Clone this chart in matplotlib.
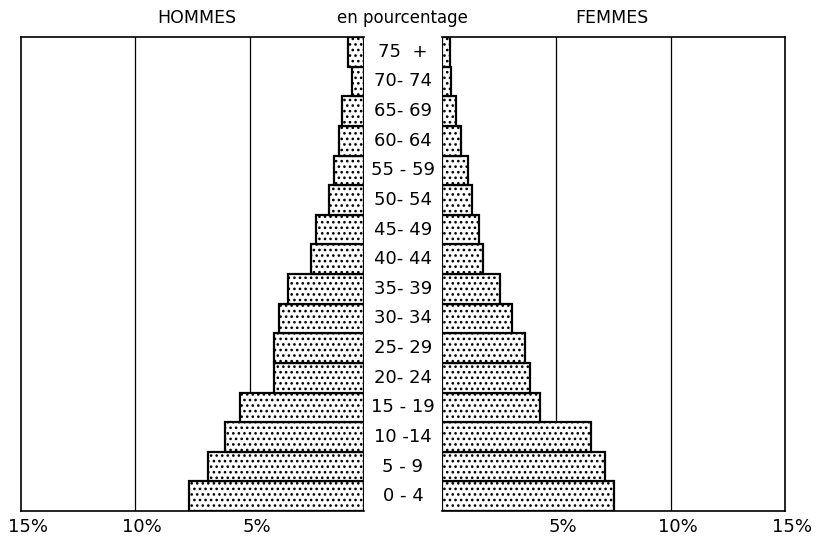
import matplotlib
matplotlib.use("Agg")
import matplotlib.pyplot as plt
from matplotlib.transforms import blended_transform_factory

# groupes d'age, du bas (0-4) vers le haut (75 +)
ages = ["0 - 4", "5 - 9", "10 -14", "15 - 19", "20- 24", "25- 29", "30- 34", "35- 39",
        "40- 44", "45- 49", "50- 54", "55 - 59", "60- 64", "65- 69", "70- 74", "75  +"]
hommes = [7.65, 6.83, 6.1, 5.42, 3.93, 3.93, 3.7, 3.34, 2.32, 2.1, 1.53, 1.31, 1.09, 0.95, 0.51, 0.69]
femmes = [7.5, 7.14, 6.53, 4.27, 3.85, 3.63, 3.07, 2.55, 1.78, 1.63, 1.31, 1.15, 0.83, 0.6, 0.39, 0.33]
ticks = [5, 10, 15]
tick_labels = ["5%", "10%", "15%"]

plt.rcParams['font.family'] = ['DejaVu Sans']
plt.rcParams['hatch.linewidth'] = 1.1

W, H = 825, 540
fig = plt.figure(figsize=(W / 100, H / 100), dpi=100)

def box(x0, x1, y0, y1):
    return [x0 / W, 1 - y1 / H, (x1 - x0) / W, (y1 - y0) / H]

ax_l = fig.add_axes(box(21, 364, 37, 511))
ax_r = fig.add_axes(box(442, 785, 37, 511))

y = list(range(len(ages)))

for ax, vals in ((ax_l, hommes), (ax_r, femmes)):
    ax.barh(y, vals, height=1.0, color="white", edgecolor="black",
            linewidth=1.6, hatch="...", zorder=3)
    for t in ticks[:2]:
        ax.axvline(t, color="black", linewidth=0.9, zorder=1)
    ax.set_xlim(0, 15)
    ax.set_ylim(-0.5, len(ages) - 0.5)
    ax.set_xticks([])
    ax.set_yticks([])
    for s in ax.spines.values():
        s.set_linewidth(1.2)
    for t, lab in zip(ticks, tick_labels):
        ax.annotate(lab, xy=(t, 0), xycoords=("data", "axes fraction"),
                    xytext=(5, -5), textcoords="offset points",
                    ha="center", va="top", fontsize=13)

ax_l.invert_xaxis()
ax_l.spines["right"].set_visible(False)
ax_r.spines["left"].set_visible(False)

# etiquettes des groupes d'age au milieu
xmid = (364 + 442) / 2 / W
tr = blended_transform_factory(fig.transFigure, ax_l.transData)
for yi, lab in zip(y, ages):
    fig.text(xmid, yi, lab, transform=tr, ha="center", va="center", fontsize=13)

fig.text(197 / W, 1 - 18 / H, "HOMMES", ha="center", va="center", fontsize=12.5)
fig.text(402 / W, 1 - 18 / H, "en pourcentage", ha="center", va="center", fontsize=12)
fig.text(612 / W, 1 - 18 / H, "FEMMES", ha="center", va="center", fontsize=12.5)

fig.savefig("out.png", dpi=100)
